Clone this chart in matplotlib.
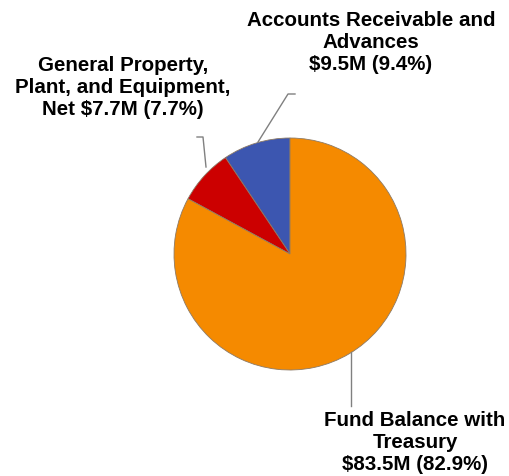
import matplotlib
matplotlib.use("Agg")
import matplotlib.pyplot as plt

# slice order: counterclockwise from 12 o'clock
labels = ["Accounts Receivable and\nAdvances",
          "General Property,\nPlant, and Equipment,\nNet",
          "Fund Balance with\nTreasury"]
amounts = [9.5, 7.7, 83.5]          # $M
shares = [9.4, 7.7, 82.9]           # percent
colors = ["#3c56b0", "#cc0000", "#f58a00"]

W, H = 510, 477
fig = plt.figure(figsize=(W / 100, H / 100), dpi=100)
ax = fig.add_axes([0, 0, 1, 1])
ax.set_xlim(0, W)
ax.set_ylim(0, H)
ax.set_aspect("equal")
ax.axis("off")


def py(y):
    # pixel row (from top) -> data y
    return H - y


ax.pie(shares, colors=colors, startangle=90, counterclock=True,
       center=(290, py(255)), radius=116,
       wedgeprops=dict(edgecolor="#8c7a66", linewidth=0.6))
ax.set_xlim(0, W)
ax.set_ylim(0, H)

font = dict(family=["Liberation Sans", "DejaVu Sans"], fontsize=14.8,
            fontweight="bold", ha="center", va="top", linespacing=1.2,
            color="black")

txt = [
    f"{labels[0]}\n${amounts[0]}M ({shares[0]}%)",
    f"{labels[1].rsplit(chr(10), 1)[0]}\nNet ${amounts[1]}M ({shares[1]}%)",
    f"{labels[2]}\n${amounts[2]}M ({shares[2]}%)",
]
ax.text(371, py(11), txt[0], **font)
ax.text(123, py(56), txt[1], **font)
ax.text(415, py(411), txt[2], **font)

# leader lines
lc = dict(color="#808080", lw=1)
ax.plot([258, 288, 295], [py(143), py(95), py(95)], **lc)
ax.plot([206, 203, 197], [py(168), py(138), py(138)], **lc)
ax.plot([351, 351], [py(353), py(407)], **lc)

fig.savefig("out.png", dpi=100)
